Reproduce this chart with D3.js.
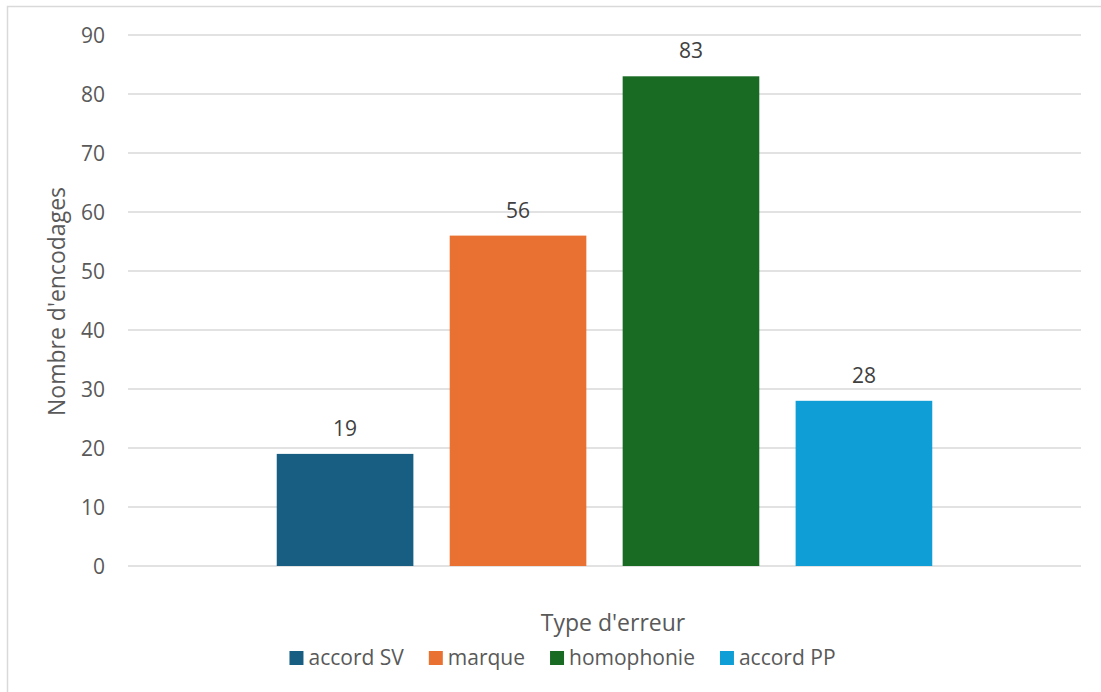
<!DOCTYPE html>
<html>
<head>
<meta charset="utf-8">
<script src="https://cdn.jsdelivr.net/npm/d3@7"></script>
<style>
  html, body { margin: 0; padding: 0; background: #fff; }
  svg { display: block; font-family: "Open Sans", "Noto Sans", sans-serif; }
</style>
</head>
<body>
<svg id="chart" width="1101" height="692"></svg>
<script>
// Error types and how many encodings each received
const series = ["accord SV", "marque", "homophonie", "accord PP"];
const values = [19, 56, 83, 28];
const colors = ["#175E82", "#E97132", "#196B24", "#0F9ED5"];
const yTicks = [0, 10, 20, 30, 40, 50, 60, 70, 80, 90];
const xTitle = "Type d'erreur";
const yTitle = "Nombre d'encodages";

const svg = d3.select("#chart");
const plot = { left: 128, right: 1081, top: 35, bottom: 566 };
const textColor = "#595959";
const gridColor = "#D9D9D9";

// Chart area border
svg.append("rect")
  .attr("x", 7.5).attr("y", 6.5)
  .attr("width", 1120).attr("height", 720)
  .attr("fill", "#fff").attr("stroke", gridColor).attr("stroke-width", 1.5);

const y = d3.scaleLinear().domain([0, 90]).range([plot.bottom, plot.top]);
const x = d3.scaleBand().domain(series)
  .range([plot.left, plot.right])
  .paddingInner(0.21).paddingOuter(0.86);

// Horizontal gridlines
svg.append("g")
  .selectAll("line").data(yTicks).join("line")
  .attr("x1", plot.left).attr("x2", plot.right)
  .attr("y1", d => y(d)).attr("y2", d => y(d))
  .attr("stroke", gridColor).attr("stroke-width", 1.5);

// Y axis tick labels
const yAxis = d3.axisLeft(y).tickValues(yTicks).tickSize(0).tickPadding(0);
const gy = svg.append("g").attr("transform", `translate(105,0)`).call(yAxis);
gy.select(".domain").remove();
gy.selectAll("text")
  .attr("fill", textColor).attr("font-size", 21)
  .attr("font-family", "'Open Sans', sans-serif")
  .attr("dy", "0.35em");

// Bars
svg.append("g").selectAll("rect").data(series).join("rect")
  .attr("x", d => x(d))
  .attr("width", x.bandwidth())
  .attr("y", (d, i) => y(values[i]))
  .attr("height", (d, i) => y(0) - y(values[i]))
  .attr("fill", (d, i) => colors[i]);

// Value labels above bars
svg.append("g").selectAll("text").data(series).join("text")
  .attr("x", d => x(d) + x.bandwidth() / 2)
  .attr("y", (d, i) => y(values[i]) - 18)
  .attr("text-anchor", "middle")
  .attr("fill", "#404040").attr("font-size", 21)
  .text((d, i) => values[i]);

// Axis titles
svg.append("text")
  .attr("x", 613).attr("y", 631)
  .attr("text-anchor", "middle")
  .attr("fill", textColor).attr("font-size", 23)
  .text(xTitle);

svg.append("text")
  .attr("transform", `translate(65,${(plot.top + plot.bottom) / 2 + 1}) rotate(-90)`)
  .attr("text-anchor", "middle")
  .attr("fill", textColor).attr("font-size", 23)
  .text(yTitle);

// Legend, centred under the chart
const legend = svg.append("g");
const items = legend.selectAll("g").data(series).join("g");
items.append("rect")
  .attr("width", 14).attr("height", 14)
  .attr("y", -14)
  .attr("fill", (d, i) => colors[i]);
items.append("text")
  .attr("x", 19).attr("y", 0)
  .attr("fill", textColor).attr("font-size", 21)
  .text(d => d);
const gap = 25;
let cursor = 0;
items.each(function () {
  const w = d3.select(this).select("text").node().getComputedTextLength();
  d3.select(this).attr("transform", `translate(${cursor},0)`);
  cursor += 19 + w + gap;
});
const legendWidth = cursor - gap;
legend.attr("transform", `translate(${562.5 - legendWidth / 2},665)`);
</script>
</body>
</html>
